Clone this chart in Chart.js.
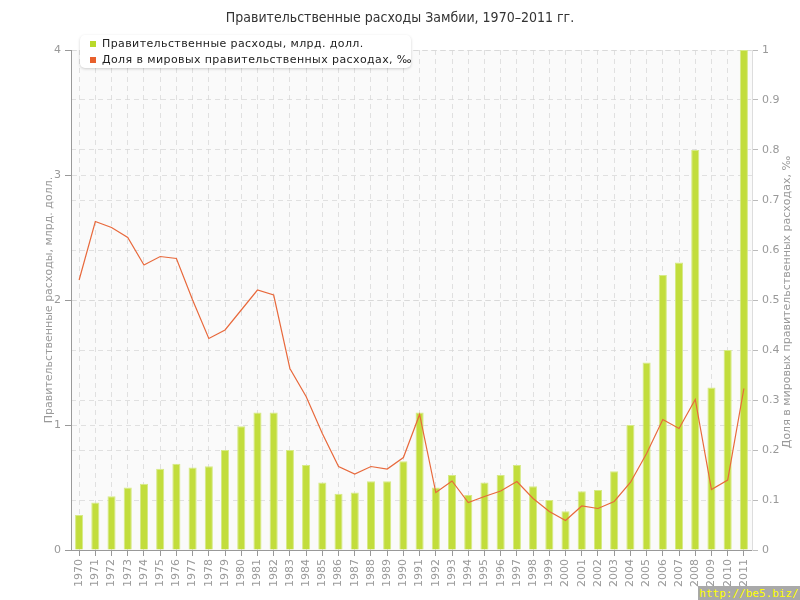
<!DOCTYPE html>
<html>
<head>
<meta charset="utf-8">
<script src="https://cdn.jsdelivr.net/npm/chart.js@4/dist/chart.umd.min.js"></script>
<style>
  html, body { margin: 0; padding: 0; background: #fff; }
  #wrap { position: relative; width: 800px; height: 600px; }
  #legenda {
    position: absolute; left: 80px; top: 35px; width: 331px; height: 33px;
    background: #fff; border-radius: 5px; box-shadow: 0 1px 3px rgba(0,0,0,0.18);
    font: 11px "DejaVu Sans", sans-serif; color: #222; letter-spacing: 0.4px;
  }
  #legenda div { position: absolute; left: 22px; white-space: nowrap; }
  #legenda span { position: absolute; left: -12px; top: 4px; width: 6px; height: 6px; }
  #marca {
    position: absolute; left: 698px; top: 586px; width: 102px; height: 14px;
    background: #a9a9a9; color: #ffff00; font: 11px "DejaVu Sans Mono", monospace;
    line-height: 15px; text-align: center;
  }
</style>
</head>
<body>
<div id="wrap">
  <canvas id="grafico" width="800" height="600"></canvas>
  <div id="legenda">
    <div style="top:2px"><span style="background:#b9d92a"></span>Правительственные расходы, млрд. долл.</div>
    <div style="top:18px"><span style="background:#e8602c"></span>Доля в мировых правительственных расходах, ‰</div>
  </div>
  <div id="marca">http://be5.biz/</div>
</div>
<script>
// Anos
const anos = ['1970','1971','1972','1973','1974','1975','1976','1977','1978','1979',
  '1980','1981','1982','1983','1984','1985','1986','1987','1988','1989',
  '1990','1991','1992','1993','1994','1995','1996','1997','1998','1999',
  '2000','2001','2002','2003','2004','2005','2006','2007','2008','2009','2010','2011'];

// Правительственные расходы, млрд. долл.
const gastos = [0.28, 0.38, 0.43, 0.50, 0.53, 0.65, 0.69, 0.66, 0.67, 0.80,
  0.99, 1.10, 1.10, 0.80, 0.68, 0.54, 0.45, 0.46, 0.55, 0.55,
  0.71, 1.10, 0.50, 0.60, 0.44, 0.54, 0.60, 0.68, 0.51, 0.40,
  0.31, 0.47, 0.48, 0.63, 1.00, 1.50, 2.20, 2.30, 3.20, 1.30, 1.60, 4.00];

// Доля в мировых правительственных расходах, ‰
const participacao = [0.54, 0.657, 0.645, 0.625, 0.57, 0.587, 0.583, 0.50, 0.423, 0.44,
  0.48, 0.52, 0.51, 0.363, 0.307, 0.233, 0.167, 0.152, 0.167, 0.162,
  0.185, 0.271, 0.115, 0.138, 0.095, 0.107, 0.118, 0.137, 0.103, 0.077,
  0.059, 0.088, 0.083, 0.097, 0.135, 0.193, 0.261, 0.243, 0.301, 0.121, 0.14, 0.323];

const titulo = 'Правительственные расходы Замбии, 1970–2011 гг.';
const tituloEsq = 'Правительственные расходы, млрд. долл.';
const tituloDir = 'Доля в мировых правительственных расходах, ‰';

const cinza = '#999';
const grade = 'rgba(215,215,215,0.75)';

// fundo da área do gráfico + títulos dos eixos
const extras = {
  id: 'extras',
  beforeDraw(chart){
    const a = chart.chartArea, ctx = chart.ctx;
    ctx.save();
    ctx.fillStyle = '#fafafa';
    ctx.fillRect(a.left, a.top, a.right - a.left, a.bottom - a.top);
    ctx.restore();
  },
  afterDraw(chart){
    const ctx = chart.ctx;
    const meio = (chart.chartArea.top + chart.chartArea.bottom) / 2;
    ctx.save();
    ctx.fillStyle = cinza;
    ctx.font = '11px "DejaVu Sans", sans-serif';
    ctx.textAlign = 'center';
    ctx.textBaseline = 'middle';
    ctx.translate(49, meio);
    ctx.rotate(-Math.PI / 2);
    ctx.fillText(tituloEsq, 0, 0);
    ctx.restore();
    ctx.save();
    ctx.fillStyle = cinza;
    ctx.font = '11px "DejaVu Sans", sans-serif';
    ctx.textAlign = 'center';
    ctx.textBaseline = 'middle';
    ctx.translate(787, meio + 2);
    ctx.rotate(-Math.PI / 2);
    ctx.fillText(tituloDir, 0, 0);
    ctx.restore();
  }
};

new Chart(document.getElementById('grafico'), {
  data: {
    labels: anos,
    datasets: [
      {
        type: 'line', label: tituloDir, data: participacao, yAxisID: 'y1',
        borderColor: '#e8693c', borderWidth: 1.2, pointRadius: 0, tension: 0, order: 0
      },
      {
        type: 'bar', label: tituloEsq, data: gastos, yAxisID: 'y',
        backgroundColor: '#c2dd3c', borderColor: '#d6ea86', borderWidth: 1,
        barPercentage: 0.5, categoryPercentage: 1, order: 1
      }
    ]
  },
  options: {
    responsive: false,
    animation: false,
    locale: 'en-US',
    layout: { padding: 0 },
    plugins: {
      legend: { display: false },
      tooltip: { enabled: false },
      title: {
        display: true, text: titulo, color: '#333',
        font: { family: '"DejaVu Sans Condensed", "DejaVu Sans", sans-serif', size: 14, weight: 'normal' },
        padding: { top: 10, bottom: 23.2 }
      }
    },
    scales: {
      x: {
        z: 1,
        offset: true,
        grid: { offset: false, color: grade, tickColor: cinza, tickLength: 6, tickBorderDash: [] },
        border: { color: cinza, width: 1, dash: [5, 4] },
        ticks: { color: cinza, font: { family: '"DejaVu Sans", sans-serif', size: 11 }, minRotation: 90, maxRotation: 90, autoSkip: false, padding: 3 },
        afterFit(s){ s.height = 50; }
      },
      y: {
        position: 'left', min: 0, max: 4, z: 1,
        grid: { color: grade, tickColor: cinza, tickLength: 6, tickBorderDash: [] },
        border: { color: cinza, width: 1, dash: [5, 4] },
        ticks: { stepSize: 1, color: cinza, font: { family: '"DejaVu Sans", sans-serif', size: 11 }, padding: 4 },
        afterFit(s){ s.width = 71; }
      },
      y1: {
        position: 'right', min: 0, max: 1, z: 1,
        grid: { color: grade, tickColor: '#bbb', tickLength: 6, tickBorderDash: [] },
        border: { color: '#ddd', width: 1, dash: [5, 4] },
        ticks: {
          stepSize: 0.1, color: cinza, font: { family: '"DejaVu Sans", sans-serif', size: 11 }, padding: 4,
          callback: v => String(Number(v.toFixed(1)))
        },
        afterFit(s){ s.width = 48; }
      }
    }
  },
  plugins: [extras]
});
</script>
</body>
</html>
